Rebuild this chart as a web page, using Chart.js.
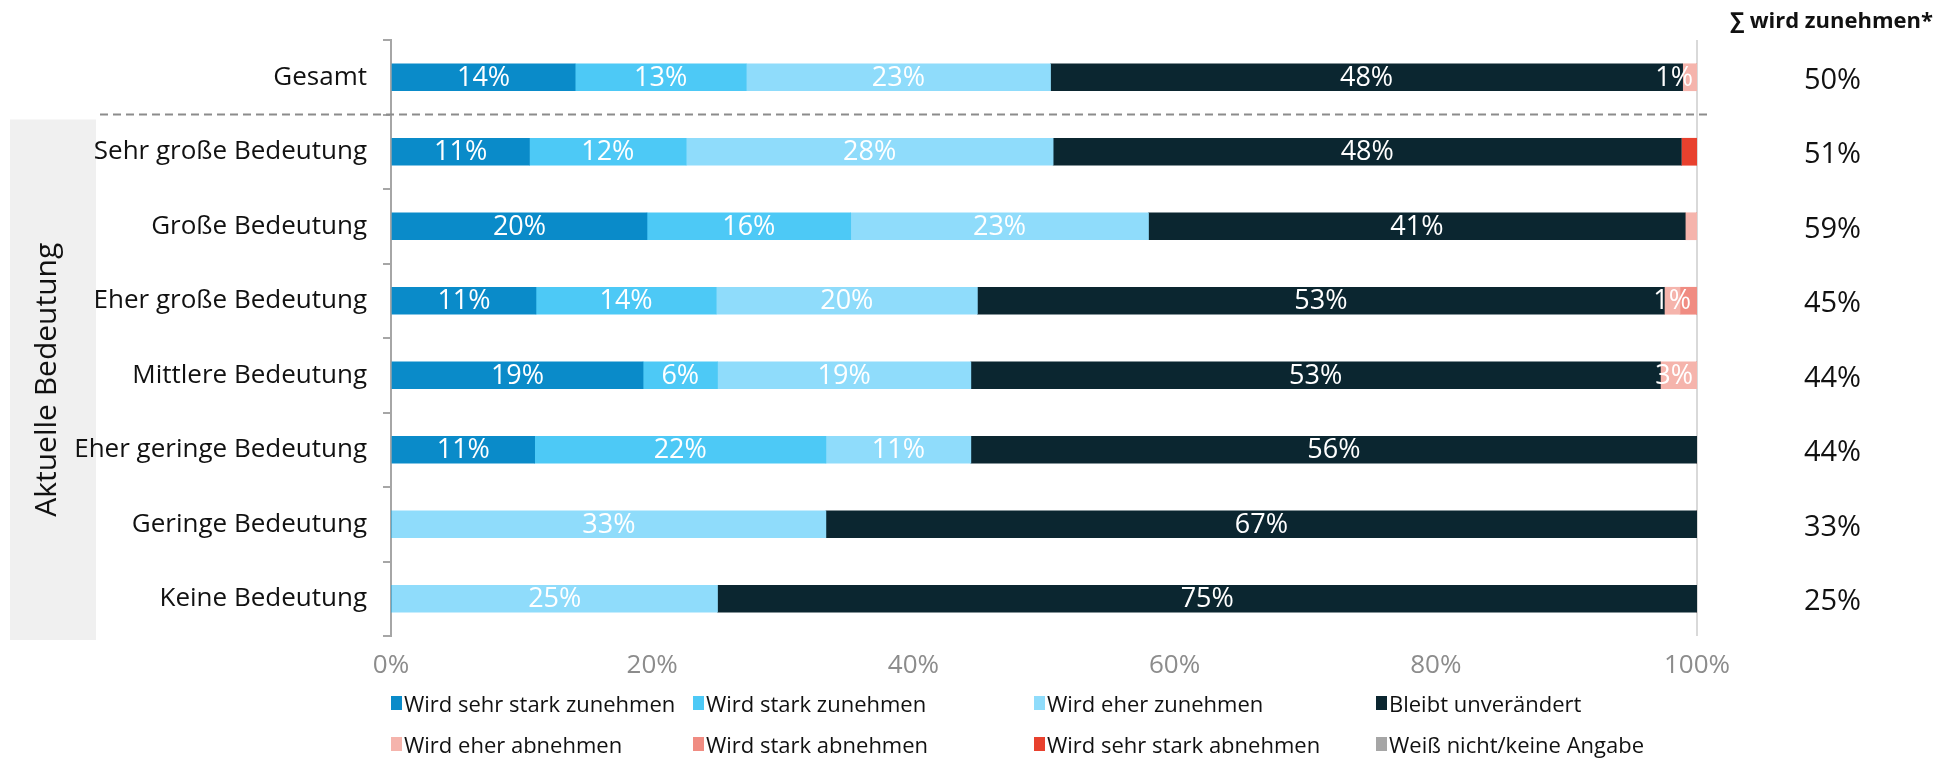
<!DOCTYPE html>
<html>
<head>
<meta charset="utf-8">
<script src="https://cdn.jsdelivr.net/npm/chart.js@4"></script>
<style>
  html, body { margin: 0; padding: 0; background: #fff; }
  #wrap { position: relative; width: 1958px; height: 760px; font-family: "Open Sans", Lato, sans-serif; }
  #chart { position: absolute; left: 0; top: 0; }
  .legend { position: absolute; left: 0; top: 0; width: 1958px; height: 760px; pointer-events: none; }
  .legend .item { position: absolute; display: flex; align-items: center; height: 30px; font-size: 22px; color: #111; white-space: nowrap; }
  .legend .box { width: 11px; height: 14px; margin-right: 2px; }
</style>
</head>
<body>
<div id="wrap">
  <canvas id="chart" width="1958" height="760"></canvas>
  <div class="legend" id="legend"></div>
</div>
<script>
const categories = [
    'Gesamt',
    'Sehr große Bedeutung',
    'Große Bedeutung',
    'Eher große Bedeutung',
    'Mittlere Bedeutung',
    'Eher geringe Bedeutung',
    'Geringe Bedeutung',
    'Keine Bedeutung',
];

const sehrStarkZu  = [14.1, 10.6, 19.6, 11.1, 19.3, 11.0,  0.0,  0.0];
const starkZu      = [13.1, 12.0, 15.6, 13.8,  5.7, 22.3,  0.0,  0.0];
const eherZu       = [23.3, 28.1, 22.8, 20.0, 19.4, 11.1, 33.3, 25.0];
const bleibt       = [48.4, 48.1, 41.1, 52.6, 52.8, 55.6, 66.7, 75.0];
const eherAb       = [ 1.1,  0.0,  0.9,  1.2,  2.8,  0.0,  0.0,  0.0];
const starkAb      = [ 0.0,  0.0,  0.0,  1.3,  0.0,  0.0,  0.0,  0.0];
const sehrStarkAb  = [ 0.0,  1.2,  0.0,  0.0,  0.0,  0.0,  0.0,  0.0];
const weissNicht   = [ 0.0,  0.0,  0.0,  0.0,  0.0,  0.0,  0.0,  0.0];

const sumLabels = ['50%', '51%', '59%', '45%', '44%', '44%', '33%', '25%'];
const sumTitle = '∑ wird zunehmen*';
const groupTitle = 'Aktuelle Bedeutung';

const seriesNames = [
    'Wird sehr stark zunehmen', 'Wird stark zunehmen', 'Wird eher zunehmen', 'Bleibt unverändert',
    'Wird eher abnehmen', 'Wird stark abnehmen', 'Wird sehr stark abnehmen', 'Weiß nicht/keine Angabe',
];
const seriesData = [sehrStarkZu, starkZu, eherZu, bleibt, eherAb, starkAb, sehrStarkAb, weissNicht];
const seriesColors = ['#0a8bc9', '#4dc9f6', '#8fdcfb', '#0b2630', '#f5b4ac', '#f08c82', '#e8412e', '#a6a6a6'];

const FONT = '"Open Sans", Lato, sans-serif';

// white percentage labels inside the segments
const segmentLabels = {
    id: 'segmentLabels',
    afterDatasetsDraw(chart) {
        const ctx = chart.ctx;
        const area = chart.chartArea;
        ctx.save();
        ctx.font = '27px ' + FONT;
        ctx.fillStyle = '#fff';
        ctx.textAlign = 'center';
        ctx.textBaseline = 'middle';
        chart.data.datasets.forEach((ds, di) => {
            if (di > 4) return;
            chart.getDatasetMeta(di).data.forEach((bar, i) => {
                const v = ds.data[i];
                if (v < 1) return;
                const txt = Math.round(v) + '%';
                const w = ctx.measureText(txt).width;
                let cx = (bar.x + bar.base) / 2;
                if (cx + w / 2 > area.right - 4) cx = area.right - 4 - w / 2;
                ctx.fillText(txt, cx, bar.y + 1);
            });
        });
        ctx.restore();
    },
};

// grey group box, rotated title, dashed separator, sum column
const decorations = {
    id: 'decorations',
    beforeDraw(chart) {
        const ctx = chart.ctx;
        const y = chart.scales.y;
        const sep = (y.getPixelForValue(0) + y.getPixelForValue(1)) / 2;
        ctx.save();
        ctx.fillStyle = '#f0f0f0';
        ctx.fillRect(10, sep + 5, 86, chart.chartArea.bottom + 4 - (sep + 5));
        ctx.restore();
    },
    afterDraw(chart) {
        const ctx = chart.ctx;
        const y = chart.scales.y;
        const y2 = chart.scales.y2;
        const sep = (y.getPixelForValue(0) + y.getPixelForValue(1)) / 2;
        const boxTop = sep + 5, boxBottom = chart.chartArea.bottom + 4;
        ctx.save();
        ctx.translate(47, (boxTop + boxBottom) / 2);
        ctx.rotate(-Math.PI / 2);
        ctx.font = '30px ' + FONT;
        ctx.fillStyle = '#111';
        ctx.textAlign = 'center';
        ctx.textBaseline = 'middle';
        ctx.fillText(groupTitle, 0, 0);
        ctx.restore();

        ctx.save();
        ctx.strokeStyle = '#8c8c8c';
        ctx.lineWidth = 2;
        ctx.setLineDash([8, 5]);
        ctx.beginPath();
        ctx.moveTo(100, sep);
        ctx.lineTo(1711, sep);
        ctx.stroke();
        ctx.restore();

        const cx = (y2.left + y2.right) / 2 + 5;
        ctx.save();
        ctx.fillStyle = '#111';
        ctx.textAlign = 'center';
        ctx.textBaseline = 'middle';
        ctx.font = 'bold 22px ' + FONT;
        ctx.fillText(sumTitle, cx - 1, 22);
        ctx.font = '29px ' + FONT;
        y2.getLabels().forEach((lbl, i) => {
            ctx.fillText(lbl, cx, y2.getPixelForTick(i) + 3);
        });
        ctx.restore();
    },
};

new Chart(document.getElementById('chart'), {
    type: 'bar',
    data: {
        labels: categories,
        datasets: seriesNames.map((name, i) => ({
            label: name,
            data: seriesData[i],
            backgroundColor: seriesColors[i],
            borderWidth: 0,
            barThickness: 27,
        })),
    },
    options: {
        indexAxis: 'y',
        responsive: false,
        animation: false,
        layout: { padding: { top: 40, left: 0, right: 0, bottom: 0 } },
        plugins: {
            legend: { display: false },
            tooltip: { enabled: false },
        },
        scales: {
            x: {
                stacked: true,
                min: 0,
                max: 100,
                ticks: {
                    stepSize: 20,
                    callback: v => v + '%',
                    font: { family: FONT, size: 26 },
                    color: '#8c8c8c',
                    padding: 14,
                },
                grid: {
                    color: ctx => (ctx.tick && ctx.tick.value === 100 ? '#d9d9d9' : 'rgba(0,0,0,0)'),
                    lineWidth: 2,
                    drawTicks: false,
                },
                border: { display: false },
                afterFit: s => { s.height = 124; },
            },
            y: {
                stacked: true,
                ticks: {
                    font: { family: FONT, size: 26 },
                    color: '#111',
                    padding: 16,
                },
                grid: {
                    offset: true,
                    drawOnChartArea: false,
                    color: '#a6a6a6',
                    lineWidth: 2,
                    tickLength: 8,
                },
                border: { display: true, color: '#a6a6a6', width: 2 },
                afterFit: s => { s.width = 391; },
            },
            y2: {
                type: 'category',
                labels: sumLabels,
                position: 'right',
                offset: true,
                ticks: { display: false },
                grid: { display: false },
                border: { display: false },
                afterFit: s => { s.width = 261; },
            },
        },
    },
    plugins: [decorations, segmentLabels],
});

// legend in a 4-column grid below the chart
const legendCols = [391, 693, 1034, 1376];
const legendRows = [703, 744];
const legendEl = document.getElementById('legend');
seriesNames.forEach((name, i) => {
    const item = document.createElement('div');
    item.className = 'item';
    item.style.left = legendCols[i % 4] + 'px';
    item.style.top = (legendRows[Math.floor(i / 4)] - 15) + 'px';
    item.innerHTML = '<span class="box" style="background:' + seriesColors[i] + '"></span><span>' + name + '</span>';
    legendEl.appendChild(item);
});
</script>
</body>
</html>
